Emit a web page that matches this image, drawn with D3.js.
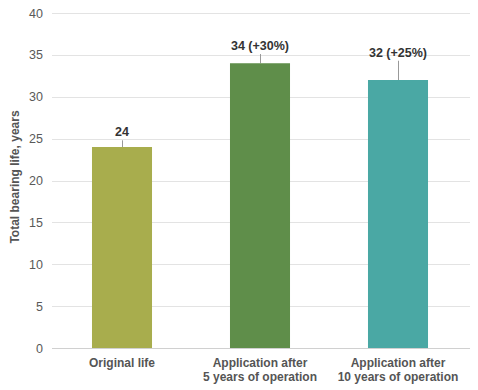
<!DOCTYPE html>
<html>
<head>
<meta charset="utf-8">
<script src="https://cdn.jsdelivr.net/npm/d3@7"></script>
<style>
  body { margin: 0; background: #fff; }
  text { font-family: Arial, "Liberation Sans", sans-serif; }
</style>
</head>
<body>
<svg id="chart"></svg>
<script>
// chart data
var categories = [["Original life"], ["Application after", "5 years of operation"], ["Application after", "10 years of operation"]];
var values = [24, 34, 32];
var errTops = [24.8, 35.1, 34.3];
var labels = ["24", "34 (+30%)", "32 (+25%)"];
var colors = ["#a8ad4d", "#5f8e4a", "#4aa8a4"];
var yTicks = [0, 5, 10, 15, 20, 25, 30, 35, 40];

var width = 478, height = 390;
var svg = d3.select('#chart')
  .attr('width', width)
  .attr('height', height);

var x = d3.scaleBand()
  .domain(d3.range(values.length))
  .range([53, 467])
  .paddingInner(0.565)
  .paddingOuter(0.2825);

var y = d3.scaleLinear()
  .domain([0, 40])
  .range([348, 13]);

// gridlines
svg.append('g')
  .selectAll('line')
  .data(yTicks)
  .enter()
  .append('line')
  .attr('x1', 52)
  .attr('x2', 470)
  .attr('y1', function (d) { return Math.round(y(d)) + 0.5; })
  .attr('y2', function (d) { return Math.round(y(d)) + 0.5; })
  .attr('stroke', function (d) { return d === 0 ? '#d0d0d0' : '#e3e3e3'; })
  .attr('stroke-width', 1);

// y tick labels
svg.append('g')
  .selectAll('text')
  .data(yTicks)
  .enter()
  .append('text')
  .attr('x', 43)
  .attr('y', function (d) { return y(d) + 4.5; })
  .attr('text-anchor', 'end')
  .attr('font-size', '12.5px')
  .attr('fill', '#595959')
  .text(function (d) { return d; });

// error lines
svg.append('g')
  .selectAll('line')
  .data(values)
  .enter()
  .append('line')
  .attr('x1', function (d, i) { return Math.round(x(i) + x.bandwidth() / 2) + 0.5; })
  .attr('x2', function (d, i) { return Math.round(x(i) + x.bandwidth() / 2) + 0.5; })
  .attr('y1', function (d) { return y(d); })
  .attr('y2', function (d, i) { return y(errTops[i]); })
  .attr('stroke', '#999')
  .attr('stroke-width', 1);

// bars
svg.append('g')
  .selectAll('rect')
  .data(values)
  .enter()
  .append('rect')
  .attr('x', function (d, i) { return x(i); })
  .attr('y', function (d) { return y(d); })
  .attr('width', x.bandwidth())
  .attr('height', function (d) { return y(0) - y(d); })
  .attr('fill', function (d, i) { return colors[i]; });

// value labels
svg.append('g')
  .selectAll('text')
  .data(labels)
  .enter()
  .append('text')
  .attr('x', function (d, i) { return x(i) + x.bandwidth() / 2; })
  .attr('y', function (d, i) { return y(errTops[i]) - 4; })
  .attr('text-anchor', 'middle')
  .attr('font-size', '12.5px')
  .attr('font-weight', 'bold')
  .attr('fill', '#333')
  .text(function (d) { return d; });

// category labels
var cat = svg.append('g')
  .selectAll('text')
  .data(categories)
  .enter()
  .append('text')
  .attr('x', function (d, i) { return x(i) + x.bandwidth() / 2; })
  .attr('y', 367)
  .attr('text-anchor', 'middle')
  .attr('font-size', '12px')
  .attr('font-weight', 'bold')
  .attr('fill', '#555');
cat.selectAll('tspan')
  .data(function (d) { return d; })
  .enter()
  .append('tspan')
  .attr('x', function () { return d3.select(this.parentNode).attr('x'); })
  .attr('dy', function (d, i) { return i === 0 ? 0 : 14; })
  .text(function (d) { return d; });

// y axis title
svg.append('text')
  .attr('transform', 'translate(19,' + 177 + ') rotate(-90)')
  .attr('text-anchor', 'middle')
  .attr('font-size', '12px')
  .attr('font-weight', 'bold')
  .attr('fill', '#555')
  .text('Total bearing life, years');
</script>
</body>
</html>
